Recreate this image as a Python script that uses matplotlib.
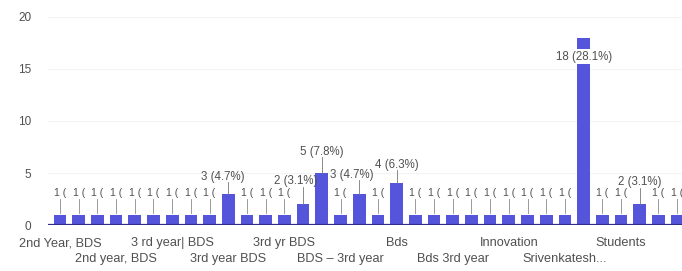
import matplotlib.pyplot as plt

plt.rcParams['font.family'] = ['Liberation Sans', 'DejaVu Sans']

values = [1, 1, 1, 1, 1, 1, 1, 1, 1, 3, 1, 1, 1, 2, 5, 1, 3, 1, 4,
          1, 1, 1, 1, 1, 1, 1, 1, 1, 18, 1, 1, 2, 1, 1]
tick_labels = ['2nd Year, BDS', '2nd year, BDS', '3 rd year| BDS', '3rd year BDS',
               '3rd yr BDS', 'BDS \u2013 3rd year', 'Bds', 'Bds 3rd year',
               'Innovation', 'Srivenkatesh...', 'Students']

bar_color = '#5555dc'
text_color = '#505050'

total = sum(values)
x = list(range(len(values)))

fig = plt.figure(figsize=(6.82, 2.71), dpi=100)
ax = fig.add_axes([48 / 682, 46 / 271, 1 - 48 / 682, 208 / 271])

ax.bar(x, values, width=0.68, color=bar_color, zorder=2)
ax.set_xlim(-0.64, 33.26)
ax.set_ylim(0, 20)

for s in ax.spines.values():
    s.set_visible(False)
ax.axhline(0, color='#2f2f8a', lw=1.6, zorder=3)

ax.set_yticks([0, 5, 10, 15, 20])
ax.tick_params(axis='y', length=0, pad=12, labelsize=8.5, labelcolor=text_color)
for yv in [5, 10, 15, 20]:
    ax.axhline(yv, color='#f4f4f4', lw=0.8, zorder=0)

# x labels: every third category, alternating two rows
ax.set_xticks([])
for k, lab in enumerate(tick_labels):
    i = k * 3
    ypix = -18 if k % 2 == 0 else -34
    ax.annotate(lab, xy=(i, 0), xytext=(0, ypix), textcoords='offset pixels',
                ha='center', va='center', fontsize=9.2, color=text_color,
                annotation_clip=False)

def pct(v):
    p = v * 1000.0 / total
    return '%d (%.1f%%)' % (v, int(p + 0.5) / 10.0)

label_y = {9: 4.6, 13: 4.2, 14: 7.0, 16: 4.8, 18: 5.8, 28: 16.2, 31: 4.1}
label_dx = {9: -0.3, 13: -0.4, 16: -0.4}

for i, v in enumerate(values):
    if v == 1:
        ax.plot([i, i], [1.15, 2.5], color='#8a8a8a', lw=0.6, zorder=3)
        ax.text(i, 3.1, '1 (', ha='center', va='center', fontsize=7.5,
                color=text_color, zorder=4)
    elif i == 28:
        ax.text(i, label_y[i], pct(v), ha='center', va='center', fontsize=8.3,
                color=text_color, zorder=4,
                bbox=dict(facecolor='white', edgecolor='none', pad=1.0))
    else:
        ly = label_y[i]
        if ly - 0.5 > v:
            ax.plot([i, i], [v, ly - 0.5], color='#777777', lw=0.6, zorder=3)
        ax.text(i + label_dx.get(i, 0), ly, pct(v), ha='center', va='center',
                fontsize=8.3, color=text_color, zorder=4)

fig.savefig('out.png', dpi=100)
